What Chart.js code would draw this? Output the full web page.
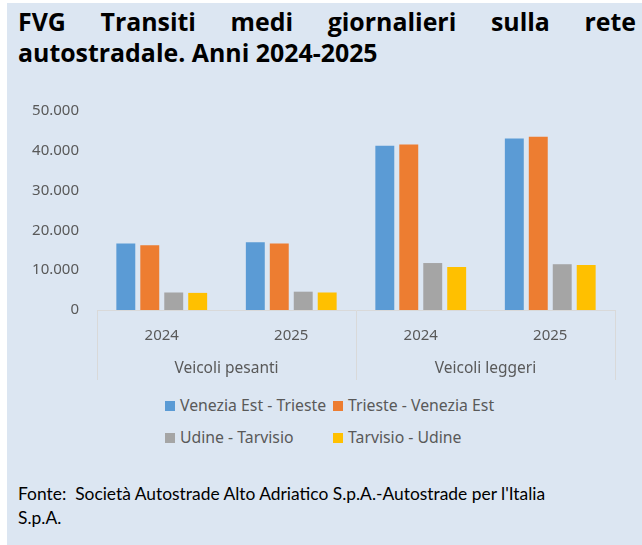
<!DOCTYPE html>
<html>
<head>
<meta charset="utf-8">
<script src="https://cdn.jsdelivr.net/npm/chart.js@4.4.1/dist/chart.umd.min.js"></script>
<style>
  html, body { margin: 0; padding: 0; background: #fff; width: 642px; height: 545px; overflow: hidden; }
  #panel { position: absolute; left: 7px; top: 3px; width: 635px; height: 542px; background: #DCE6F2; }
  #title { position: absolute; left: 18px; top: 6px; width: 618px; font: 700 24.9px "Open Sans", sans-serif;
    line-height: 31px; color: #000; }
  #title .r1 { display: block; text-align: justify; text-align-last: justify; }
  #wrap { position: absolute; left: 0; top: 84px; width: 642px; height: 306px; }
  .leg { position: absolute; font: 15.8px "Noto Sans", sans-serif; color: #595959; white-space: nowrap; }
  .leg i { display: inline-block; width: 10px; height: 10px; margin-right: 5px; }
  #fonte { position: absolute; left: 18px; top: 482px; font: 17.4px Lato, sans-serif; line-height: 24px; color: #000; }
</style>
</head>
<body>
<div id="panel"></div>
<div id="title"><span class="r1">FVG Transiti medi giornalieri sulla rete</span>autostradale. Anni 2024-2025</div>
<div id="wrap"><canvas id="chart"></canvas></div>
<div id="legend"></div>
<div id="fonte">Fonte:&nbsp; Società Autostrade Alto Adriatico S.p.A.-Autostrade per l'Italia<br>S.p.A.</div>
<script>
var anni = ['2024', '2025', '2024', '2025'];
var gruppi = ['Veicoli pesanti', 'Veicoli leggeri'];
var serie = ['Venezia Est - Trieste', 'Trieste - Venezia Est', 'Udine - Tarvisio', 'Tarvisio - Udine'];
var veneziaTrieste = [16700, 17000, 41300, 43100];
var triesteVenezia = [16300, 16700, 41600, 43500];
var udineTarvisio = [4400, 4600, 11800, 11500];
var tarvisioUdine = [4300, 4400, 10800, 11300];
var colori = ['#5B9BD5', '#ED7D31', '#A5A5A5', '#FFC000'];
var yTicks = [0, 10000, 20000, 30000, 40000, 50000];

// legenda in html, due colonne come nell'originale
var legPos = [[165, 400], [333, 400], [165, 432], [333, 432]];
var legHtml = '';
serie.forEach(function (s, i) {
  legHtml += '<div class="leg" style="left:' + legPos[i][0] + 'px;top:' + (legPos[i][1] - 6) + 'px">' +
    '<i style="background:' + colori[i] + '"></i>' + s + '</div>';
});
document.getElementById('legend').innerHTML = legHtml;

function punti(n) {
  return String(n).replace(/\B(?=(\d{3})+(?!\d))/g, '.');
}

var valori = [veneziaTrieste, triesteVenezia, udineTarvisio, tarvisioUdine];

// linee separatrici solo ai bordi dei gruppi
function sepColor(c) {
  return (c.index === 1 || c.index === 3) ? 'rgba(0,0,0,0)' : '#D9D9D9';
}

var chart = new Chart('chart', {
  type: 'bar',
  data: {
    labels: anni,
    datasets: serie.map(function (s, i) {
      return {
        label: s,
        data: valori[i],
        backgroundColor: colori[i],
        categoryPercentage: 0.74,
        barPercentage: 0.79
      };
    })
  },
  options: {
    responsive: true,
    maintainAspectRatio: false,
    animation: false,
    layout: { padding: { left: 32, right: 27, top: 0, bottom: 10 } },
    plugins: { legend: { display: false }, tooltip: { enabled: false } },
    scales: {
      y: {
        min: 0, max: 50000,
        afterFit: function (s) { s.width = 65; },
        afterBuildTicks: function (s) { s.ticks = yTicks.map(function (v) { return { value: v }; }); },
        grid: { display: false, drawTicks: false },
        border: { display: false },
        ticks: {
          padding: 18, color: '#595959',
          font: { family: 'Noto Sans', size: 15 },
          callback: function (v) { return punti(v); }
        }
      },
      x: {
        offset: true,
        weight: 0,
        afterFit: function (s) { s.height = 34; },
        grid: { offset: true, drawOnChartArea: false, drawTicks: true, tickLength: 70, color: sepColor },
        border: { display: true, color: '#D9D9D9' },
        ticks: { mirror: true, padding: -35, color: '#595959', font: { family: 'Noto Sans', size: 15 } }
      },
      gruppi: {
        type: 'category',
        position: 'bottom',
        weight: 1,
        labels: gruppi,
        offset: true,
        afterFit: function (s) { s.height = 36; },
        grid: { display: false },
        border: { display: false },
        ticks: { mirror: true, padding: -34, color: '#595959', font: { family: 'Noto Sans', size: 15.5 } }
      }
    }
  }
});
</script>
</body>
</html>
